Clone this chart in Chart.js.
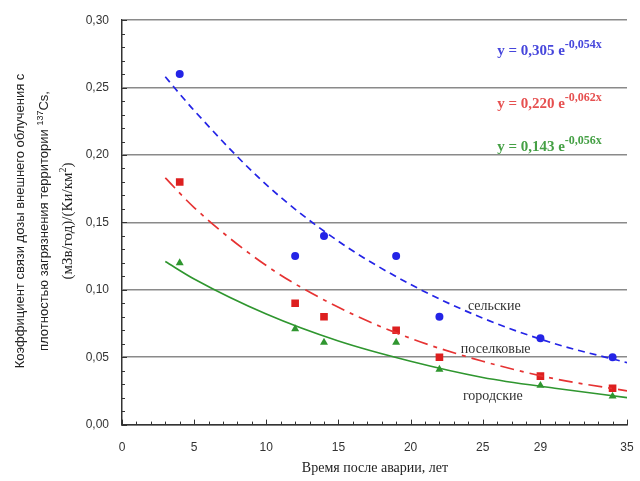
<!DOCTYPE html>
<html>
<head>
<meta charset="utf-8">
<script src="https://cdn.jsdelivr.net/npm/chart.js@4"></script>
<style>
  body { margin: 0; background: #fff; }
  #chart { display: block; }
</style>
</head>
<body>
<canvas id="chart" width="640" height="481"></canvas>
<script>
// measured points (years after the accident)
const years = [4, 12, 14, 19, 22, 29, 34];
const rural = [0.26, 0.125, 0.14, 0.125, 0.08, 0.064, 0.05];
const township = [0.18, 0.09, 0.08, 0.07, 0.05, 0.036, 0.027];
const urban = [0.12, 0.071, 0.061, 0.061, 0.041, 0.029, 0.021];

// fitted curves
const fitYears = [3, 5, 10, 15, 20, 25, 30, 35];
const ruralFit = [0.258, 0.233, 0.178, 0.136, 0.104, 0.079, 0.060, 0.046];
const townshipFit = [0.183, 0.161, 0.118, 0.087, 0.064, 0.047, 0.034, 0.025];
const urbanFit = [0.121, 0.108, 0.082, 0.062, 0.047, 0.035, 0.027, 0.020];

const xTicks = [0, 5, 10, 15, 20, 25, 29, 35];
const yTicks = [0, 0.05, 0.10, 0.15, 0.20, 0.25, 0.30];

const BLUE = "#2424e6";
const RED = "#dd1f1f";
const GREEN = "#2f962f";
const SERIF = "'Liberation Serif', 'Times New Roman', serif";
const SANS = "'Liberation Sans', Arial, sans-serif";

function pts(xs, ys) {
    return xs.map((x, i) => ({ x: x, y: ys[i] }));
}

// text with superscript pieces: parts = [[text, isSup], ...]
function drawRich(ctx, parts, x, y, size, opts) {
    const o = Object.assign({ bold: false, family: SERIF, align: "left", supScale: 0.66, supRise: 0.42 }, opts);
    const font = (s) => (o.bold ? "bold " : "") + s + "px " + o.family;
    const supSize = Math.round(size * o.supScale);
    let total = 0;
    parts.forEach(p => {
        ctx.font = font(p[1] ? supSize : size);
        total += ctx.measureText(p[0]).width;
    });
    let cx = o.align === "center" ? x - total / 2 : x;
    ctx.textAlign = "left";
    ctx.textBaseline = "alphabetic";
    parts.forEach(p => {
        ctx.font = font(p[1] ? supSize : size);
        ctx.fillText(p[0], cx, p[1] ? y - size * o.supRise : y);
        cx += ctx.measureText(p[0]).width;
    });
}

const labels = [
    { text: "сельские", x: 25.8, y: 0.085 },
    { text: "поселковые", x: 25.9, y: 0.053 },
    { text: "городские", x: 25.7, y: 0.018 }
];

const equations = [
    { parts: [["y = 0,305 e", false], ["-0,054x", true]], color: "#4646dc", x: 26.0, y: 0.274 },
    { parts: [["y = 0,220 e", false], ["-0,062x", true]], color: "#e65050", x: 26.0, y: 0.235 },
    { parts: [["y = 0,143 e", false], ["-0,056x", true]], color: "#45a045", x: 26.0, y: 0.203 }
];

const extras = {
    id: "extras",
    afterDraw(chart) {
        const ctx = chart.ctx;
        const xs = chart.scales.x, ys = chart.scales.y;
        const area = chart.chartArea;
        ctx.save();
        // minor tick marks
        ctx.strokeStyle = "#333";
        ctx.lineWidth = 1;
        for (let v = 0; v <= 35; v++) {
            const px = Math.round(xs.getPixelForValue(v)) + 0.5;
            const len = xTicks.includes(v) ? 5 : 3;
            ctx.beginPath();
            ctx.moveTo(px, area.bottom);
            ctx.lineTo(px, area.bottom - len);
            ctx.stroke();
        }
        for (let i = 0; i <= 30; i++) {
            const py = Math.round(ys.getPixelForValue(i / 100)) + 0.5;
            const len = i % 5 === 0 ? 5 : 3;
            ctx.beginPath();
            ctx.moveTo(area.left, py);
            ctx.lineTo(area.left + len, py);
            ctx.stroke();
        }
        // curve labels
        ctx.fillStyle = "#333";
        labels.forEach(l => {
            drawRich(ctx, [[l.text, false]], xs.getPixelForValue(l.x), ys.getPixelForValue(l.y), 14, { align: "center" });
        });
        // equations
        equations.forEach(e => {
            ctx.fillStyle = e.color;
            drawRich(ctx, e.parts, xs.getPixelForValue(e.x), ys.getPixelForValue(e.y), 15, { bold: true, supScale: 0.8, supRise: 0.45 });
        });
        // x axis title
        ctx.fillStyle = "#222";
        drawRich(ctx, [["Время после аварии, лет", false]], 375, 472, 14, { align: "center" });
        // y axis title, three rotated lines
        const cy = 221;
        const lines = [
            { x: 24, family: SANS, parts: [["Коэффициент связи дозы внешнего облучения с", false]] },
            { x: 48, family: SANS, parts: [["плотностью загрязнения территории ", false], ["137", true], ["Cs,", false]] },
            { x: 72, family: SERIF, parts: [["(мЗв/год)/(Ки/км", false], ["2", true], [")", false]] }
        ];
        lines.forEach(l => {
            ctx.save();
            ctx.translate(l.x, cy);
            ctx.rotate(-Math.PI / 2);
            drawRich(ctx, l.parts, 0, 0, l.family === SANS ? 13 : 15, { align: "center", family: l.family });
            ctx.restore();
        });
        ctx.restore();
    }
};

new Chart(document.getElementById("chart"), {
    type: "line",
    data: {
        datasets: [
            {
                data: pts(fitYears, ruralFit), borderColor: BLUE, borderWidth: 1.7,
                borderDash: [7, 5], pointRadius: 0, cubicInterpolationMode: "monotone"
            },
            {
                data: pts(fitYears, townshipFit), borderColor: "#e63333", borderWidth: 1.7,
                borderDash: [14, 6, 4, 6], pointRadius: 0, cubicInterpolationMode: "monotone"
            },
            {
                data: pts(fitYears, urbanFit), borderColor: GREEN, borderWidth: 1.6,
                pointRadius: 0, cubicInterpolationMode: "monotone"
            },
            {
                data: pts(years, rural), showLine: false, pointStyle: "circle",
                pointRadius: 4, backgroundColor: BLUE, borderColor: BLUE, borderWidth: 0
            },
            {
                data: pts(years, township), showLine: false, pointStyle: "rect",
                pointRadius: 5.4, backgroundColor: RED, borderColor: RED, borderWidth: 0
            },
            {
                data: pts(years, urban), showLine: false, pointStyle: "triangle",
                pointRadius: 4.6, backgroundColor: GREEN, borderColor: GREEN, borderWidth: 0
            }
        ]
    },
    options: {
        responsive: false,
        animation: false,
        layout: { padding: { left: 0, right: 0, top: 9, bottom: 10 } },
        plugins: { legend: { display: false }, tooltip: { enabled: false } },
        scales: {
            x: {
                type: "linear", min: 0, max: 35,
                afterBuildTicks: axis => { axis.ticks = xTicks.map(v => ({ value: v })); },
                afterFit: axis => { axis.paddingRight = 13; },
                grid: { display: false, drawTicks: false },
                border: { display: true, color: "#333", width: 1.5 },
                ticks: { color: "#333", font: { family: SANS, size: 12 }, padding: 16, maxRotation: 0 }
            },
            y: {
                min: 0, max: 0.3,
                afterBuildTicks: axis => { axis.ticks = yTicks.map(v => ({ value: v })); },
                afterFit: axis => { axis.width = 122; },
                grid: { color: "#8a8a8a", lineWidth: 1.5, drawTicks: false },
                border: { display: true, color: "#333", width: 1.5 },
                ticks: {
                    color: "#333", font: { family: SANS, size: 12 }, padding: 13,
                    callback: v => v.toFixed(2).replace(".", ",")
                }
            }
        }
    },
    plugins: [extras]
});
</script>
</body>
</html>
